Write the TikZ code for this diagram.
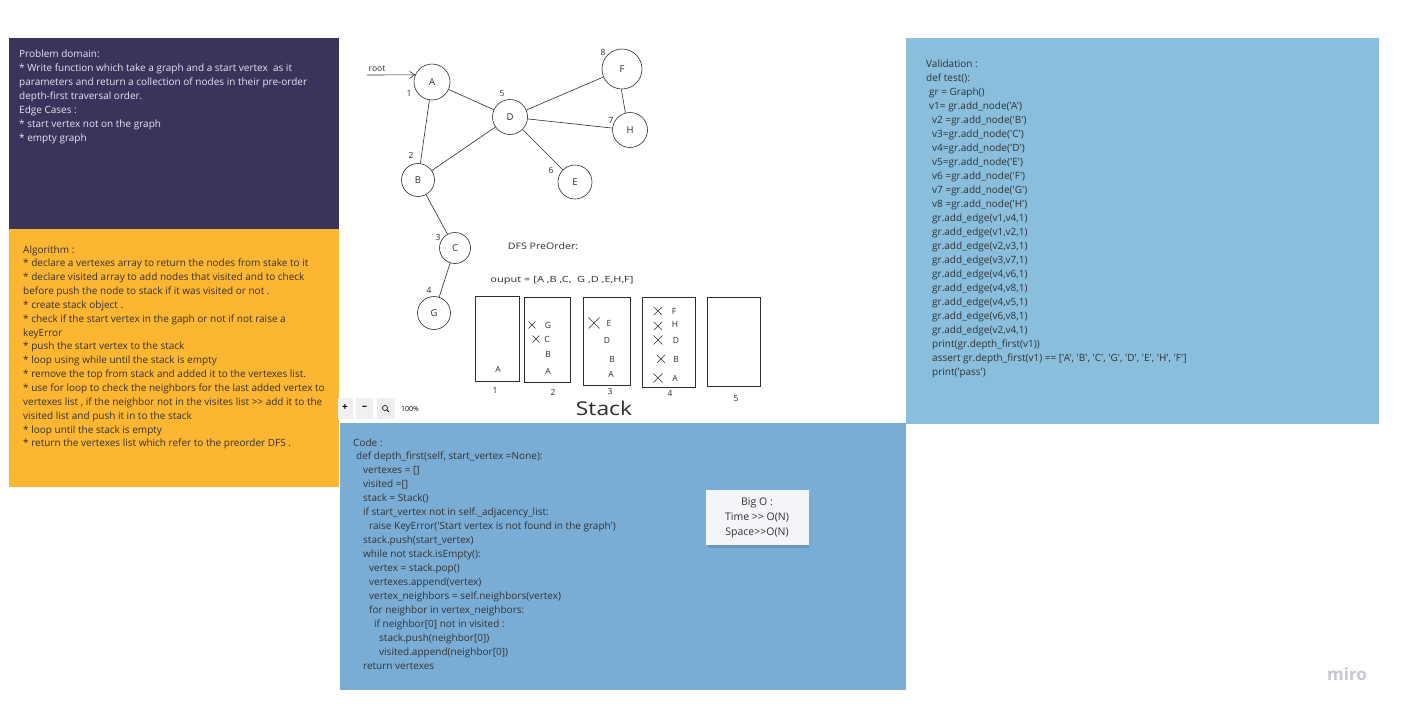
\documentclass[tikz,border=0pt]{standalone}
\usepackage{fontspec}
\newfontfamily\osans{Open Sans}
\usetikzlibrary{arrows.meta}
\definecolor{navy}{RGB}{56,52,92}
\definecolor{algoorange}{RGB}{253,182,50}
\definecolor{valblue}{RGB}{137,190,221}
\definecolor{codeblue}{RGB}{122,173,213}
\definecolor{lighttxt}{RGB}{230,230,238}
\definecolor{darktxt}{RGB}{50,50,50}
\definecolor{ink}{RGB}{45,45,45}
\definecolor{stickybg}{RGB}{244,245,249}
\definecolor{btngray}{RGB}{240,240,242}
\definecolor{mirogray}{RGB}{200,200,212}
\newcommand\placelines[6]{%
  \foreach \ln [count=\i from 0] in {#6} {
    \node[linetxt,#4] (#1\i) at (#2, #3+\i*#5) {\ln};
  }%
}
\newcommand\xm[3]{\draw[sketch] (#1-#3,#2-#3) -- (#1+#3,#2+#3) (#1-#3,#2+#3) -- (#1+#3,#2-#3);}
\begin{document}
\begin{tikzpicture}[x=1pt,y=-1pt,
  linetxt/.style={anchor=base west, inner sep=0pt, font=\osans\fontsize{10}{12}\selectfont},
  sketch/.style={draw=ink, line width=0.6pt},
  gnode/.style={circle, draw=ink, line width=0.6pt, inner sep=0pt, font=\osans\fontsize{9.5}{10}\selectfont, text=ink},
  hand/.style={inner sep=0pt, font=\osans\fontsize{8.5}{9}\selectfont, text=ink},
  stackbox/.style={draw=ink, line width=0.6pt, inner sep=0pt},
  edge/.style={draw=ink, line width=0.6pt}
]
\useasboundingbox (0,0) rectangle (1402,713);
\fill[white] (0,0) rectangle (1402,713);

% ---------- panels ----------
\fill[navy] (9,38) rectangle (339,229);
\fill[algoorange] (9,229) rectangle (339,487);
\fill[valblue] (906,38) rectangle (1379,424);
\fill[codeblue] (340,423) rectangle (906,690);

% ---------- Problem domain ----------
\placelines{pd}{19}{57}{text=lighttxt}{14}{%
{Problem domain:},
{* Write function which take a graph and a start vertex \ as it},
{parameters and return a collection of nodes in their pre-order},
{depth-first traversal order.},
{Edge Cases :},
{* start vertex not on the graph},
{* empty graph}}

% ---------- Algorithm ----------
\placelines{al}{23}{253}{text=darktxt}{13.85}{%
{Algorithm :},
{* declare a vertexes array to return the nodes from stake to it},
{* declare visited array to add nodes that visited and to check},
{before push the node to stack if it was visited or not .},
{* create stack object .},
{* check if the start vertex in the gaph or not if not raise a},
{keyError},
{* push the start vertex to the stack},
{* loop using while until the stack is empty},
{* remove the top from stack and added it to the vertexes list.},
{* use for loop to check the neighbors for the last added vertex to},
{vertexes list , if the neighbor not in the visites list >> add it to the},
{visited list and push it in to the stack},
{* loop until the stack is empty},
{* return the vertexes list which refer to the preorder DFS .}}

% ---------- Validation ----------
\placelines{va}{926}{67}{text=darktxt}{14}{%
{Validation :},
{def test():},
{\hspace*{3pt}gr = Graph()},
{\hspace*{3pt}v1= gr.add\_node('A')},
{\hspace*{6pt}v2 =gr.add\_node('B')},
{\hspace*{6pt}v3=gr.add\_node('C')},
{\hspace*{6pt}v4=gr.add\_node('D')},
{\hspace*{6pt}v5=gr.add\_node('E')},
{\hspace*{6pt}v6 =gr.add\_node('F')},
{\hspace*{6pt}v7 =gr.add\_node('G')},
{\hspace*{6pt}v8 =gr.add\_node('H')},
{\hspace*{6pt}gr.add\_edge(v1,v4,1)},
{\hspace*{6pt}gr.add\_edge(v1,v2,1)},
{\hspace*{6pt}gr.add\_edge(v2,v3,1)},
{\hspace*{6pt}gr.add\_edge(v3,v7,1)},
{\hspace*{6pt}gr.add\_edge(v4,v6,1)},
{\hspace*{6pt}gr.add\_edge(v4,v8,1)},
{\hspace*{6pt}gr.add\_edge(v4,v5,1)},
{\hspace*{6pt}gr.add\_edge(v6,v8,1)},
{\hspace*{6pt}gr.add\_edge(v2,v4,1)},
{\hspace*{6pt}print(gr.depth\_first(v1))},
{\hspace*{6pt}assert gr.depth\_first(v1) == ['A', 'B', 'C', 'G', 'D', 'E', 'H', 'F']},
{\hspace*{6pt}print('pass')}}

% ---------- Code ----------
\placelines{co}{353}{446}{text=darktxt}{13.94}{%
{Code :},
{\hspace*{3pt}def depth\_first(self, start\_vertex =None):},
{\hspace*{10pt}vertexes = []},
{\hspace*{10pt}visited =[]},
{\hspace*{10pt}stack = Stack()},
{\hspace*{10pt}if start\_vertex not in self.\_adjacency\_list:},
{\hspace*{16pt}raise KeyError('Start vertex is not found in the graph')},
{\hspace*{10pt}stack.push(start\_vertex)},
{\hspace*{10pt}while not stack.isEmpty():},
{\hspace*{16pt}vertex = stack.pop()},
{\hspace*{16pt}vertexes.append(vertex)},
{\hspace*{16pt}vertex\_neighbors = self.neighbors(vertex)},
{\hspace*{16pt}for neighbor in vertex\_neighbors:},
{\hspace*{21pt}if neighbor[0] not in visited :},
{\hspace*{26pt}stack.push(neighbor[0])},
{\hspace*{26pt}visited.append(neighbor[0])},
{\hspace*{10pt}return vertexes}}

% ---------- Big O sticky ----------
\fill[black, opacity=0.12] (708,496) rectangle (809,548);
\fill[stickybg] (706,490) rectangle (809,545);
\node[inner sep=0pt, anchor=base, text=darktxt, font=\osans\fontsize{10.5}{12}\selectfont] (bo1) at (757,505) {Big O :};
\node[inner sep=0pt, anchor=base, text=darktxt, font=\osans\fontsize{10.5}{12}\selectfont] (bo2) at (757,520) {Time >> O(N)};
\node[inner sep=0pt, anchor=base, text=darktxt, font=\osans\fontsize{10.5}{12}\selectfont] (bo3) at (757,535) {Space>>O(N)};

% ---------- miro logo ----------
\node[inner sep=0pt, text=mirogray, font=\osans\bfseries\fontsize{17}{18}\selectfont] (miro) at (1347,674) {miro};

% ---------- graph ----------
\node[gnode, minimum size=36] (A) at (432,82) {A};
\node[gnode, minimum size=35] (D) at (510,117) {D};
\node[gnode, minimum size=40] (F) at (622,69) {F};
\node[gnode, minimum size=35] (H) at (630,130) {H};
\node[gnode, minimum size=33] (B) at (418,180) {B};
\node[gnode, minimum size=34] (E) at (575,182) {E};
\node[gnode, minimum size=31] (C) at (455,248) {C};
\node[gnode, minimum size=33] (G) at (434,313) {G};

\draw[edge] (A) -- (D);
\draw[edge] (A) -- (B);
\draw[edge] (B) -- (D);
\draw[edge] (B) -- (C);
\draw[edge] (C) -- (G);
\draw[edge] (D) -- (F);
\draw[edge] (D) -- (H);
\draw[edge] (D) -- (E);
\draw[edge] (F.-92) -- (H.105);

\coordinate (rootstart) at (367,75);
\draw[edge, -{Straight Barb[length=5pt, width=7pt]}] (rootstart) -- (A.157);
\node[hand] (rootlbl) at (377,69) {root};

\node[hand] (n1) at (409,93) {1};
\node[hand] (n5) at (502,94) {5};
\node[hand] (n8) at (603,52) {8};
\node[hand] (n7) at (611,120) {7};
\node[hand] (n2) at (411,155) {2};
\node[hand] (n6) at (551,170) {6};
\node[hand] (n3) at (438,237) {3};
\node[hand] (n4) at (429,290) {4};

\node[hand, font=\osans\fontsize{9}{10}\selectfont] (dfs) at (543,246) {\scalebox{1.18}[1]{DFS PreOrder:}};
\node[hand, font=\osans\fontsize{8.5}{10}\selectfont] (out) at (562,280) {\scalebox{1.3}[1]{ouput = [A ,B ,C, \ G ,D ,E,H,F]}};

% ---------- stacks ----------
\node[stackbox, minimum width=44, minimum height=85] (s1) at (497,338.5) {};
\node[stackbox, minimum width=46, minimum height=85] (s2) at (547,339.5) {};
\node[stackbox, minimum width=47, minimum height=88] (s3) at (606.5,341) {};
\node[stackbox, minimum width=53, minimum height=90] (s4) at (668.5,342) {};
\node[stackbox, minimum width=53, minimum height=89] (s5) at (733.5,341.5) {};

\node[hand] (l1) at (495,390) {1};
\node[hand] (l2) at (553,392) {2};
\node[hand] (l3) at (610,391) {3};
\node[hand] (l4) at (670,393) {4};
\node[hand] (l5) at (736,398) {5};

\node[hand] (s1a) at (498,369) {A};

\xm{532}{325}{3.5}
\xm{536}{339}{3.5}
\node[hand] (s2g) at (548,325) {G};
\node[hand] (s2c) at (547,339) {C};
\node[hand] (s2b) at (548,354) {B};
\node[hand] (s2a) at (548,371) {A};

\xm{594}{323}{5.5}
\node[hand] (s3e) at (609,323) {E};
\node[hand] (s3d) at (607,340) {D};
\node[hand] (s3b) at (612,359) {B};
\node[hand] (s3a) at (611,374) {A};

\xm{658}{311}{4}
\xm{658}{326}{4}
\xm{658}{340}{4.5}
\xm{661}{359}{4}
\xm{658}{378}{4.5}
\node[hand] (s4f) at (674,311) {F};
\node[hand] (s4h) at (675,324) {H};
\node[hand] (s4d) at (676,340) {D};
\node[hand] (s4b) at (676,359) {B};
\node[hand] (s4a) at (675,378) {A};

\node[hand, font=\osans\fontsize{19}{20}\selectfont] (stk) at (604,408) {\scalebox{1.2}[1]{Stack}};

% ---------- zoom controls ----------
\fill[btngray] (338,398) rectangle (353,419);
\fill[btngray] (356,398) rectangle (373,419);
\fill[btngray] (377,398) rectangle (395,419);
\node[inner sep=0pt, font=\osans\bfseries\fontsize{10}{10}\selectfont, text=black] (zplus) at (345,408) {+};
\node[inner sep=0pt, font=\osans\bfseries\fontsize{10}{10}\selectfont, text=black] (zminus) at (364.5,408) {\textendash};
\draw[black, line width=0.6pt] (385,408) circle (2.5);
\draw[black, line width=0.8pt] (386.8,409.8) -- (388.8,411.8);
\node[inner sep=0pt, font=\osans\fontsize{7}{8}\selectfont, text=black] (zpct) at (410,408.5) {100\%};
\end{tikzpicture}
\end{document}
